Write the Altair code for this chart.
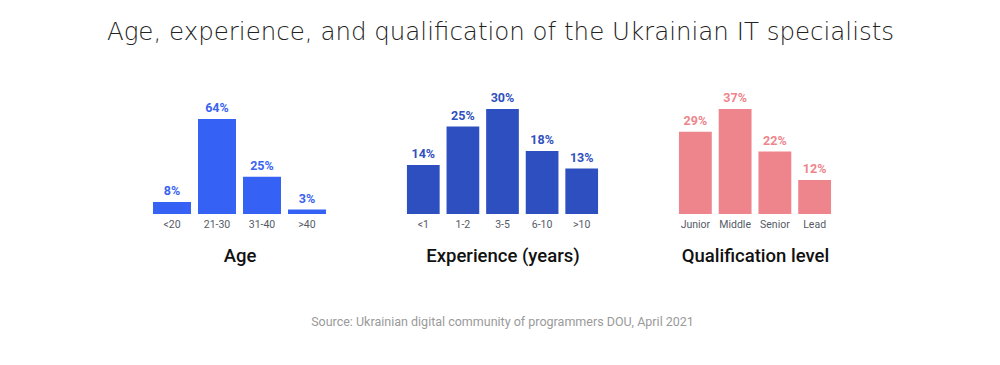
import altair as alt
import pandas as pd

# ---- data ----
age_cats = ["<20", "21-30", "31-40", ">40"]
age_vals = [8, 64, 25, 3]

exp_cats = ["<1", "1-2", "3-5", "6-10", ">10"]
exp_vals = [14, 25, 30, 18, 13]

qual_cats = ["Junior", "Middle", "Senior", "Lead"]
qual_vals = [29, 37, 22, 12]

title_text = "Age, experience, and qualification of the Ukrainian IT specialists"
source_text = "Source: Ukrainian digital community of programmers DOU, April 2021"

FONT = "Roboto"


def panel(cats, vals, color, label_color, axis_title, width, p_inner, ymax, title=None):
    df = pd.DataFrame({"cat": cats, "value": vals})
    base = alt.Chart(df).transform_calculate(label="datum.value + '%'")
    x = alt.X(
        "cat:N",
        sort=cats,
        scale=alt.Scale(paddingInner=p_inner, paddingOuter=p_inner / 2),
        axis=alt.Axis(
            title=axis_title,
            labelAngle=0,
            domain=False,
            ticks=False,
            grid=False,
            labelColor="#555b66",
            labelFont=FONT,
            labelFontSize=10.5,
            labelPadding=5,
            titleFont=FONT,
            titleFontSize=18.5,
            titleFontWeight=500,
            titleColor="#111111",
            titlePadding=17,
        ),
    )
    y = alt.Y("value:Q", scale=alt.Scale(domain=[0, ymax], nice=False), axis=None)
    bars = base.mark_bar(color=color).encode(x=x, y=y)
    text = base.mark_text(
        baseline="bottom", dy=-4, font=FONT, fontSize=12.5, fontWeight="bold", color=label_color
    ).encode(x=alt.X("cat:N", sort=cats), y=y, text="label:N")
    props = dict(width=width, height=105)
    if title is not None:
        props["title"] = title
    return alt.layer(bars, text).properties(**props)


p1 = panel(age_cats, age_vals, "#3562f4", "#3a63ef", "Age", 180, 0.156, 70.7)
p2 = panel(
    exp_cats, exp_vals, "#2d4fbf", "#2f50bd", "Experience (years)", 198, 0.174, 30,
    title=alt.Title(
        source_text, orient="bottom", font=FONT, fontSize=12.5, fontWeight="normal",
        color="#9a9a9a", offset=51, anchor="middle",
    ),
)
p3 = panel(qual_cats, qual_vals, "#ee858c", "#ee858c", "Qualification level", 159, 0.174, 37)

chart = (
    alt.hconcat(p1, p2, p3, spacing=74, bounds="flush")
    .properties(
        title=alt.Title(
            title_text, font="DejaVu Sans", fontSize=24.5, fontWeight=200, color="#222222",
            anchor="middle", dx=8.5, offset=47,
        ),
        padding={"left": 98.5, "top": 11, "right": 5, "bottom": 5},
    )
    .configure_view(stroke=None)
)

chart.save("out.html", embed_options={"renderer": "svg", "actions": False})
